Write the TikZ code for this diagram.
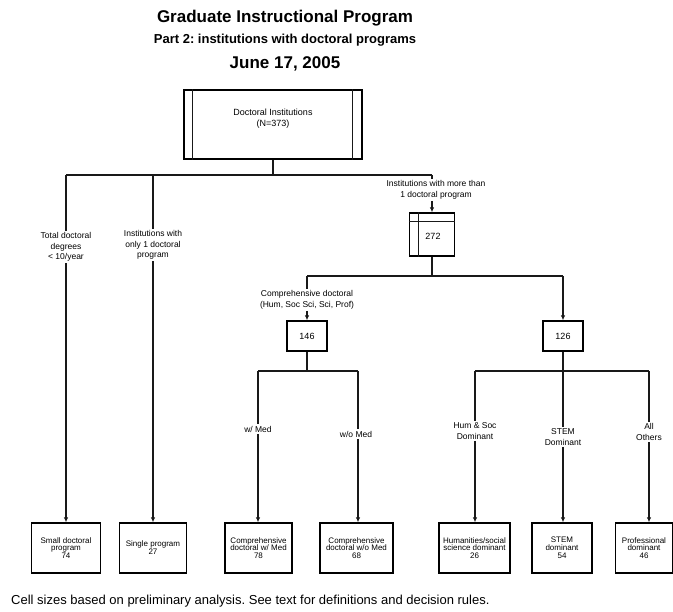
\documentclass[tikz,border=0pt]{standalone}
\usepackage{fontspec}
\setmainfont{Liberation Sans}
\usetikzlibrary{arrows.meta}
\frenchspacing
\begin{document}
\begin{tikzpicture}[x=1pt,y=-1pt,
  line/.style={line width=1.1pt, draw=black!90},
  arr/.style={line, -{Latex[length=5pt,width=4.5pt]}},
  box/.style={draw, line width=1.3pt, align=center, inner sep=1pt, font=\fontsize{8}{7.8}\selectfont, minimum height=50pt},
  lab/.style={align=center, inner sep=1.5pt, font=\fontsize{8.5}{10.5}\selectfont},
  midbox/.style={draw, line width=1.3pt, font=\fontsize{9}{11}\selectfont, minimum width=40pt, minimum height=30pt}]
\useasboundingbox (0,0) rectangle (673,612);
% titles
\node[font=\bfseries\fontsize{17}{20}\selectfont, anchor=base, inner sep=0] (t1) at (285,22.5) {Graduate Instructional Program};
\node[font=\bfseries\fontsize{13}{15}\selectfont, anchor=base, inner sep=0] (t2) at (285,43.5) {Part 2: institutions with doctoral programs};
\node[font=\bfseries\fontsize{17}{20}\selectfont, anchor=base, inner sep=0] (t3) at (285,68.5) {June 17, 2005};
% top box
\node[draw, line width=1.3pt, minimum width=178pt, minimum height=69pt] (top) at (273,124.5) {};
\draw[line] ([xshift=9pt]top.north west) -- ([xshift=9pt]top.south west);
\draw[line] ([xshift=-10pt]top.north east) -- ([xshift=-10pt]top.south east);
\node[align=center, font=\fontsize{9}{11}\selectfont] (toptext) at (273,118.5) {Doctoral Institutions\\(N=373)};
% first level
\coordinate (j0) at (273,175);
\coordinate (jL) at (66,175);
\coordinate (jS) at (153,175);
\coordinate (jR) at (432,175);
\draw[line] (top) -- (j0);
\draw[line] (jL) -- (jR);
\node[lab] (labL) at (66,247) {Total doctoral\\degrees\\< 10/year};
\node[lab] (labS) at (153,245) {Institutions with\\only 1 doctoral\\program};
\node[box, minimum width=69pt] (small) at (66,548) {Small doctoral\\program\\74};
\node[box, minimum width=67pt] (single) at (153,548) {Single program\\27};
\draw[line] (jL) -- (labL);
\draw[arr] (labL) -- (labL |- small.north);
\draw[line] (jS) -- (labS);
\draw[arr] (labS) -- (labS |- single.north);
% 272
\node[lab] (lab272) at (436,190) {Institutions with more than\\1 doctoral program};
\node[midbox, minimum width=45pt, minimum height=43pt] (b272) at (432,234.5) {};
\node[font=\fontsize{9}{11}\selectfont] (t272) at (433,236) {272};
\draw[line] ([xshift=10pt]b272.north west) -- ([xshift=10pt]b272.south west);
\draw[line] ([yshift=-9pt]b272.north west) -- ([yshift=-9pt]b272.north east);
\draw[line] (jR) -- (jR |- lab272.north);
\draw[arr] (jR |- lab272.south) -- (b272);
% second level
\coordinate (k0) at (432,276);
\coordinate (kL) at (307,276);
\coordinate (kR) at (563,276);
\draw[line] (b272) -- (k0);
\draw[line] (kL) -- (kR);
\node[lab] (lab146) at (307,300) {Comprehensive doctoral\\(Hum, Soc Sci, Sci, Prof)};
\node[midbox] (b146) at (307,336) {146};
\node[midbox] (b126) at (563,336) {126};
\draw[line] (kL) -- (lab146);
\draw[arr] (lab146) -- (b146);
\draw[arr] (kR) -- (b126);
% third level left
\coordinate (m0) at (307,371);
\coordinate (mL) at (258,371);
\coordinate (mR) at (358,371);
\draw[line] (b146) -- (m0);
\draw[line] (mL) -- (mR);
\node[lab] (labW) at (258,429) {w/ Med};
\node[lab] (labWo) at (356,434) {w/o Med};
\node[box, minimum width=67pt] (compW) at (258.5,548) {Comprehensive\\doctoral w/ Med\\78};
\node[box, minimum width=73pt] (compWo) at (356.5,548) {Comprehensive\\doctoral w/o Med\\68};
\draw[line] (mL) -- (labW);
\draw[arr] (labW) -- (labW |- compW.north);
\draw[line] (mR) -- (mR |- labWo.north);
\draw[arr] (mR |- labWo.south) -- (mR |- compWo.north);
% third level right
\coordinate (n0) at (563,371);
\coordinate (nL) at (475,371);
\coordinate (nR) at (649,371);
\draw[line] (b126) -- (n0);
\draw[line] (nL) -- (nR);
\node[lab] (labH) at (475,431) {Hum \& Soc\\Dominant};
\node[lab] (labST) at (563,437) {STEM\\Dominant};
\node[lab] (labAll) at (649,432) {All\\Others};
\node[box, minimum width=71pt] (hum) at (474.5,548) {Humanities/social\\science dominant\\26};
\node[box, minimum width=60pt] (stem) at (562,548) {STEM\\dominant\\54};
\node[box, minimum width=57pt] (prof) at (644,548) {Professional\\dominant\\46};
\draw[line] (nL) -- (labH);
\draw[arr] (labH) -- (labH |- hum.north);
\draw[line] (n0) -- (labST);
\draw[arr] (labST) -- (labST |- stem.north);
\draw[line] (nR) -- (labAll);
\draw[arr] (labAll) -- (labAll |- prof.north);
% footer
\node[anchor=base west, font=\fontsize{13}{15}\selectfont, inner sep=0] (foot) at (11,605) {Cell sizes based on preliminary analysis. See text for definitions and decision rules.};
\end{tikzpicture}
\end{document}
